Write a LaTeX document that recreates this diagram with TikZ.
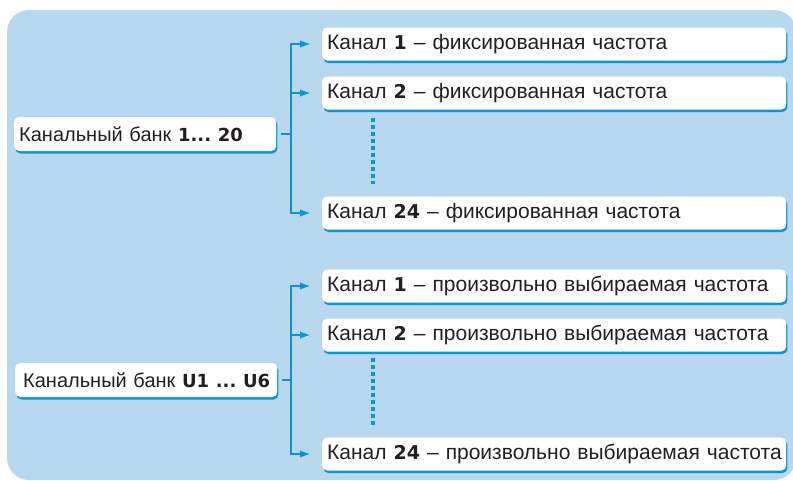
\documentclass[tikz,border=0pt]{standalone}
\usepackage{fontspec}
\setmainfont{Liberation Sans}
\newfontfamily\numfont{DejaVu Sans}
\usetikzlibrary{arrows.meta,shadows}
\frenchspacing
\definecolor{bgblue}{RGB}{184,216,240}
\definecolor{lineblue}{RGB}{8,150,214}
\definecolor{txt}{RGB}{35,31,32}
\newcommand{\nb}[1]{{\numfont\bfseries\fontsize{19}{23}\selectfont #1}}
\newcommand{\nbs}[1]{{\numfont\bfseries\fontsize{18}{22}\selectfont #1}}
\tikzset{
  box/.style={draw=none, fill=white, rounded corners=5pt, minimum height=33pt,
    inner xsep=5pt, inner ysep=0pt, align=left, anchor=west, text=txt,
    font=\fontsize{21}{25}\selectfont,
    general shadow={shadow xshift=1.2pt, shadow yshift=-2.5pt, fill=lineblue}},
  chan/.style={box, text width=454pt},
  bank/.style={box, text width=252pt, minimum height=34pt, font=\fontsize{20}{24}\selectfont},
  conn/.style={draw=lineblue, line width=2pt},
  arr/.style={conn, -{Latex[length=11pt,width=7.5pt]}, shorten >=11pt},
  dots/.style={draw=lineblue, line width=4pt, dash pattern=on 4pt off 3pt}
}
\begin{document}
\begin{tikzpicture}[x=1pt,y=-1pt]
\useasboundingbox (0,0) rectangle (793,480);
\begin{scope}
\clip (0,0) rectangle (793,480);
\fill[bgblue, rounded corners=22pt] (7,10) rectangle (796,480);
\end{scope}

% upper group
\node[bank] (b1) at (14,134) {\mbox{Канальный банк \nbs{1... 20}}};
\node[chan] (c11) at (322,44) {\mbox{Канал \nb{1} – фиксированная частота}};
\node[chan] (c12) at (322,93) {\mbox{Канал \nb{2} – фиксированная частота}};
\node[chan] (c124) at (322,213) {\mbox{Канал \nb{24} – фиксированная частота}};
\coordinate (s1) at (291,134);
\draw[conn] (b1.east) ++(5,0) -- (s1);
\draw[arr] (s1) |- (c11.west);
\draw[arr] (s1) |- (c12.west);
\draw[arr] (s1) |- (c124.west);
\draw[dots] ([xshift=51pt,yshift=-8pt]c12.south west) -- ([xshift=51pt,yshift=12pt]c124.north west);

% lower group
\node[bank] (b2) at (15,380) {\mbox{\hspace*{3pt}Канальный банк \nbs{U1 ... U6}}};
\node[chan] (c21) at (322,286) {\mbox{Канал \nb{1} – произвольно выбираемая частота}};
\node[chan] (c22) at (322,335) {\mbox{Канал \nb{2} – произвольно выбираемая частота}};
\node[chan] (c224) at (322,454) {\mbox{Канал \nb{24} – произвольно выбираемая частота}};
\coordinate (s2) at (291,380);
\draw[conn] (b2.east) ++(5,0) -- (s2);
\draw[arr] (s2) |- (c21.west);
\draw[arr] (s2) |- (c22.west);
\draw[arr] (s2) |- (c224.west);
\draw[dots] ([xshift=51pt,yshift=-6pt]c22.south west) -- ([xshift=51pt,yshift=12pt]c224.north west);
\end{tikzpicture}
\end{document}
